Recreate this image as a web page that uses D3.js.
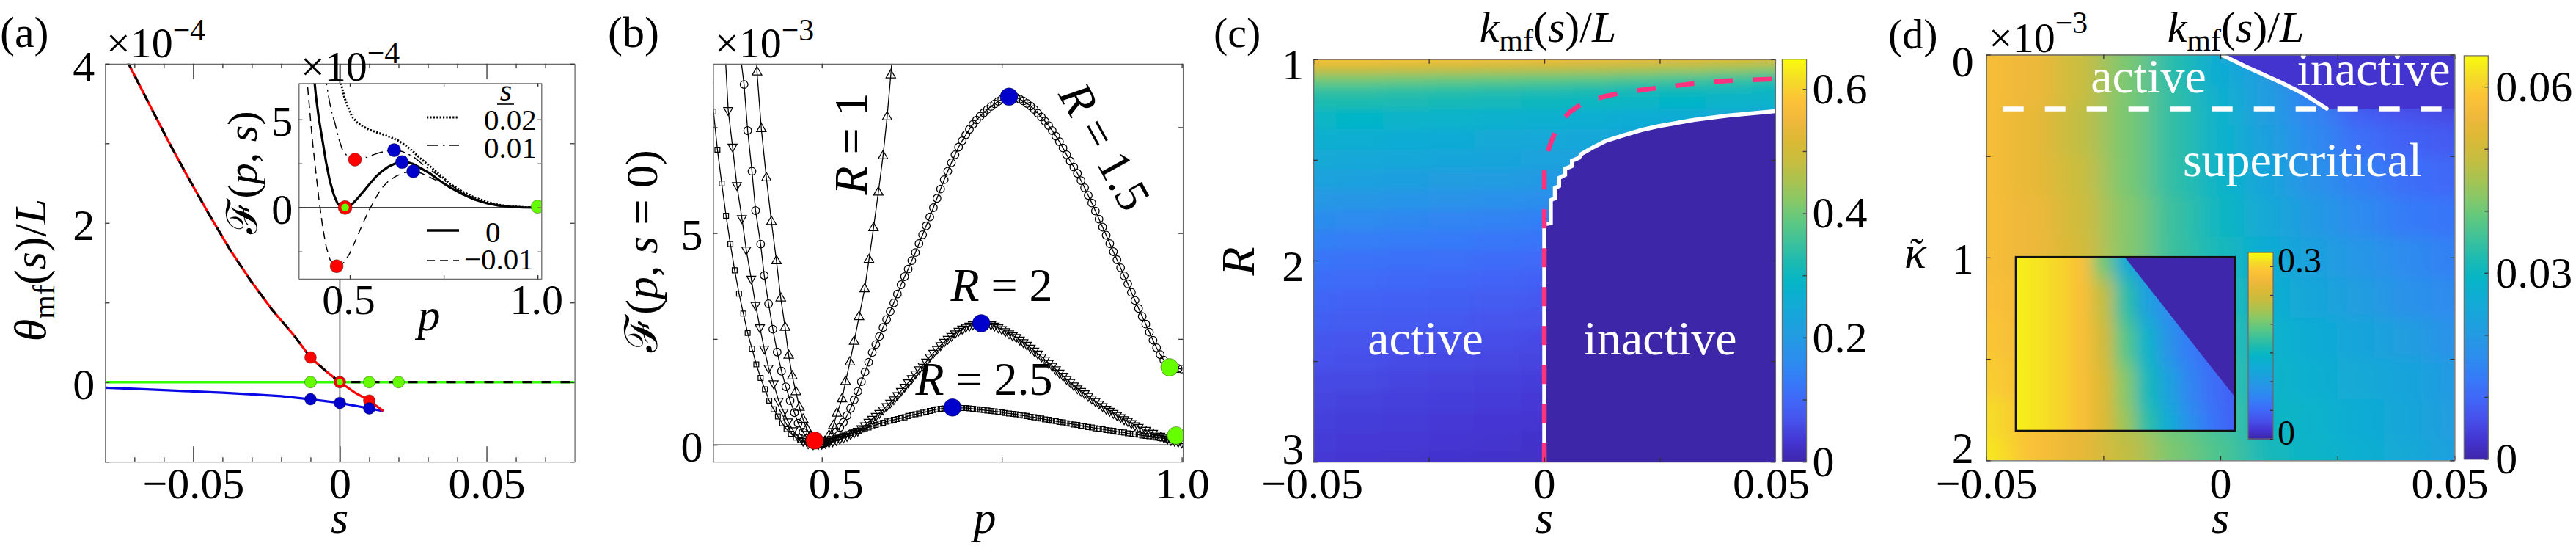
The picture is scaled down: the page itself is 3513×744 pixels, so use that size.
<!DOCTYPE html>
<html><head><meta charset="utf-8">
<script src="https://cdn.jsdelivr.net/npm/d3@7/dist/d3.min.js"></script>
<style>
html,body{margin:0;padding:0;background:#fff;}
svg text{font-family:"Liberation Serif","Times New Roman","DejaVu Serif",serif;}
</style></head>
<body>
<svg id="fig" width="3513" height="744" xmlns="http://www.w3.org/2000/svg"></svg>
<script>
// ================= DATA =================
// (a) theta_mf(s)/L  (units 1e-4) versus s
const aRed=[[-0.0728,4.05],[-0.072,4.0],[-0.0655,3.53],[-0.0585,3.03],[-0.0514,2.55],[-0.0443,2.09],[-0.0372,1.65],[-0.0301,1.26],[-0.023,0.906],[-0.0159,0.6],[-0.01,0.31],[-0.0045,0.13],[0,0],[0.0053,-0.136],[0.01,-0.232],[0.0148,-0.363]];
const aBlue=[[-0.08,-0.07],[-0.07,-0.085],[-0.06,-0.1],[-0.05,-0.117],[-0.04,-0.133],[-0.03,-0.153],[-0.02,-0.177],[-0.01,-0.215],[0,-0.262],[0.01,-0.33],[0.0148,-0.363]];
const aGreen=[[-0.08,0],[0.08,0]];
const aZeroTail=[[0.08,0]];
const aRedDots=[[-0.01,0.31],[0.01,-0.232]];
const aBlueDots=[[-0.01,-0.215],[0,-0.262],[0.01,-0.33]];
const aGreenDots=[[-0.01,0],[0.01,0],[0.02,0]];
const aRing=[[0,0]];
// (a) inset: F(p,s) (units 1e-4) versus p for s = 0.02, 0.01, 0, -0.01
const iDotted=[[0.474,7.6],[0.4765,7.06],[0.485,6.3],[0.493,5.81],[0.505,5.2],[0.519,4.83],[0.535,4.6],[0.551,4.42],[0.57,4.28],[0.59,4.14],[0.61,3.98],[0.63,3.79],[0.65,3.5],[0.669,3.17],[0.69,2.75],[0.714,2.33],[0.74,1.85],[0.766,1.36],[0.8,0.9],[0.831,0.58],[0.865,0.32],[0.896,0.15],[0.93,0.06],[0.96,0.02],[1.0,0.0]];
const iDashDot=[[0.434,7.6],[0.4375,7.06],[0.446,6.0],[0.453,5.3],[0.46,4.83],[0.47,3.95],[0.48,3.3],[0.49,3.0],[0.4995,2.85],[0.5137,2.72],[0.53,2.76],[0.545,2.86],[0.558,2.96],[0.58,3.12],[0.6,3.22],[0.618,3.26],[0.64,3.18],[0.669,2.89],[0.7,2.35],[0.734,1.85],[0.766,1.3],[0.8,0.85],[0.831,0.5],[0.865,0.27],[0.9,0.12],[0.95,0.03],[1.0,0.0]];
const iSolid=[[0.404,7.6],[0.41,6.3],[0.418,5.0],[0.428,3.72],[0.437,2.55],[0.447,1.5],[0.457,0.75],[0.467,0.25],[0.477,0.04],[0.4875,0.0],[0.497,0.05],[0.506,0.18],[0.52,0.5],[0.538,0.95],[0.555,1.4],[0.571,1.78],[0.587,2.08],[0.6035,2.33],[0.62,2.49],[0.639,2.58],[0.655,2.56],[0.669,2.47],[0.69,2.22],[0.714,1.92],[0.74,1.52],[0.766,1.15],[0.8,0.76],[0.831,0.46],[0.865,0.24],[0.896,0.11],[0.93,0.04],[0.962,0.01],[1.0,0.0]];
const iDashed=[[0.384,7.6],[0.387,7.06],[0.393,5.6],[0.4,3.9],[0.408,2.33],[0.418,0.45],[0.428,-1.14],[0.437,-2.2],[0.447,-2.94],[0.456,-3.25],[0.465,-3.33],[0.475,-3.28],[0.486,-3.08],[0.5,-2.6],[0.519,-1.69],[0.535,-0.9],[0.551,-0.17],[0.568,0.5],[0.584,1.08],[0.603,1.5],[0.623,1.78],[0.645,1.98],[0.669,2.06],[0.69,1.95],[0.714,1.71],[0.74,1.45],[0.766,1.15],[0.8,0.76],[0.831,0.46],[0.865,0.24],[0.896,0.11],[0.93,0.04],[0.962,0.01],[1.0,0.0]];
const iRedDots=[[0.5137,2.72],[0.465,-3.33]];
const iBlueDots=[[0.618,3.26],[0.639,2.58],[0.669,2.06]];
const iGreenDots=[[1.0,0.05]];
const iRing=[[0.4875,0]];
const iLegendLabels=["0.02","0.01","0","\u22120.01"];
// (b) F(p, s=0) (units 1e-3) versus p for R = 1, 1.5, 2, 2.5
const bR1=[[0.408,9.6],[0.41,8.8],[0.416,7.46],[0.423,6.3],[0.43,5.27],[0.437,4.34],[0.443,3.46],[0.449,2.77],[0.454,2.11],[0.459,1.62],[0.464,1.25],[0.469,0.88],[0.474,0.6],[0.479,0.38],[0.484,0.2],[0.49,0.05],[0.497,0.01],[0.504,0.07],[0.51,0.22],[0.516,0.45],[0.521,0.74],[0.528,1.08],[0.533,1.49],[0.539,1.95],[0.5449,2.44],[0.5517,3.02],[0.5595,3.68],[0.5655,4.37],[0.5718,5.12],[0.5785,5.96],[0.585,6.82],[0.5907,7.74],[0.5958,8.73],[0.5995,9.5]];
const bR15=[[0.387,9.2],[0.392,8.51],[0.397,7.42],[0.403,6.46],[0.408,5.53],[0.415,4.74],[0.42,4.0],[0.426,3.33],[0.432,2.73],[0.438,2.19],[0.444,1.74],[0.45,1.37],[0.456,1.04],[0.462,0.76],[0.467,0.51],[0.474,0.3],[0.48,0.15],[0.486,0.05],[0.492,0.01],[0.5,0.02],[0.505,0.05],[0.51,0.11],[0.515,0.19],[0.52,0.3],[0.525,0.41],[0.53,0.53],[0.535,0.69],[0.54,0.86],[0.545,1.06],[0.55,1.26],[0.555,1.49],[0.56,1.72],[0.565,1.95],[0.57,2.18],[0.575,2.37],[0.58,2.56],[0.585,2.77],[0.59,2.96],[0.595,3.15],[0.6,3.35],[0.605,3.56],[0.61,3.78],[0.615,3.97],[0.62,4.15],[0.625,4.35],[0.63,4.54],[0.635,4.75],[0.64,4.96],[0.645,5.17],[0.65,5.38],[0.655,5.6],[0.66,5.82],[0.665,6.04],[0.67,6.26],[0.675,6.46],[0.68,6.66],[0.685,6.85],[0.69,7.03],[0.695,7.18],[0.7,7.32],[0.705,7.45],[0.71,7.57],[0.715,7.67],[0.72,7.76],[0.725,7.84],[0.73,7.92],[0.735,7.99],[0.74,8.05],[0.745,8.11],[0.75,8.16],[0.755,8.2],[0.76,8.22],[0.765,8.22],[0.77,8.2],[0.775,8.16],[0.78,8.12],[0.785,8.06],[0.79,8.0],[0.795,7.92],[0.8,7.83],[0.805,7.74],[0.81,7.64],[0.815,7.54],[0.82,7.42],[0.825,7.29],[0.83,7.16],[0.835,7.01],[0.84,6.85],[0.845,6.7],[0.85,6.56],[0.855,6.41],[0.86,6.24],[0.865,6.07],[0.87,5.89],[0.875,5.71],[0.88,5.52],[0.885,5.33],[0.89,5.14],[0.895,4.95],[0.9,4.75],[0.905,4.56],[0.91,4.37],[0.915,4.18],[0.92,3.99],[0.925,3.8],[0.93,3.6],[0.935,3.41],[0.94,3.22],[0.945,3.03],[0.95,2.85],[0.955,2.66],[0.96,2.47],[0.965,2.29],[0.97,2.13],[0.975,2.0],[0.98,1.9],[0.985,1.84],[0.99,1.81],[0.995,1.8],[1.0,1.79]];
const bR2=[[0.365,9.5],[0.37,7.9],[0.376,7.04],[0.382,6.13],[0.389,5.35],[0.395,4.61],[0.402,3.92],[0.408,3.3],[0.414,2.77],[0.42,2.27],[0.426,1.82],[0.433,1.45],[0.44,1.04],[0.447,0.78],[0.453,0.55],[0.46,0.34],[0.467,0.19],[0.474,0.09],[0.481,0.03],[0.488,0.01],[0.495,0.01],[0.5,0.02],[0.505,0.04],[0.51,0.06],[0.515,0.08],[0.52,0.11],[0.525,0.14],[0.53,0.17],[0.535,0.21],[0.54,0.25],[0.545,0.29],[0.55,0.33],[0.555,0.39],[0.56,0.46],[0.565,0.54],[0.57,0.61],[0.575,0.68],[0.58,0.75],[0.585,0.83],[0.59,0.91],[0.595,0.99],[0.6,1.07],[0.605,1.17],[0.61,1.27],[0.615,1.37],[0.62,1.47],[0.625,1.57],[0.63,1.68],[0.635,1.78],[0.64,1.87],[0.645,1.96],[0.65,2.08],[0.655,2.17],[0.66,2.26],[0.665,2.35],[0.67,2.43],[0.675,2.5],[0.68,2.57],[0.685,2.63],[0.69,2.69],[0.695,2.74],[0.7,2.78],[0.705,2.81],[0.71,2.84],[0.715,2.86],[0.72,2.87],[0.725,2.87],[0.73,2.86],[0.735,2.84],[0.74,2.81],[0.745,2.77],[0.75,2.73],[0.755,2.68],[0.76,2.63],[0.765,2.58],[0.77,2.54],[0.775,2.48],[0.78,2.42],[0.785,2.36],[0.79,2.29],[0.795,2.22],[0.8,2.15],[0.805,2.08],[0.81,2.01],[0.815,1.93],[0.82,1.86],[0.825,1.78],[0.83,1.7],[0.835,1.63],[0.84,1.55],[0.845,1.48],[0.85,1.4],[0.855,1.33],[0.86,1.27],[0.865,1.21],[0.87,1.15],[0.875,1.09],[0.88,1.03],[0.885,0.97],[0.89,0.91],[0.895,0.85],[0.9,0.8],[0.905,0.75],[0.91,0.7],[0.915,0.65],[0.92,0.6],[0.925,0.56],[0.93,0.51],[0.935,0.46],[0.94,0.42],[0.945,0.38],[0.95,0.35],[0.955,0.31],[0.96,0.28],[0.965,0.24],[0.97,0.21],[0.975,0.18],[0.98,0.14],[0.985,0.11],[0.99,0.09],[0.995,0.07],[1.0,0.05]];
const bR25=[[0.345,8.6],[0.3495,7.87],[0.355,6.97],[0.361,6.17],[0.367,5.41],[0.373,4.74],[0.379,4.12],[0.385,3.57],[0.391,3.1],[0.397,2.64],[0.403,2.27],[0.409,1.9],[0.415,1.58],[0.421,1.31],[0.427,1.04],[0.433,0.84],[0.439,0.67],[0.445,0.51],[0.451,0.37],[0.457,0.26],[0.464,0.17],[0.47,0.11],[0.476,0.06],[0.482,0.03],[0.488,0.01],[0.495,0.01],[0.5,0.02],[0.505,0.05],[0.51,0.09],[0.515,0.13],[0.52,0.16],[0.525,0.19],[0.53,0.22],[0.535,0.25],[0.54,0.28],[0.545,0.31],[0.55,0.33],[0.555,0.36],[0.56,0.39],[0.565,0.41],[0.57,0.44],[0.575,0.47],[0.58,0.5],[0.585,0.52],[0.59,0.55],[0.595,0.57],[0.6,0.59],[0.605,0.61],[0.61,0.63],[0.615,0.65],[0.62,0.68],[0.625,0.7],[0.63,0.72],[0.635,0.74],[0.64,0.76],[0.645,0.78],[0.65,0.8],[0.655,0.82],[0.66,0.84],[0.665,0.85],[0.67,0.86],[0.675,0.87],[0.68,0.88],[0.685,0.88],[0.69,0.88],[0.695,0.87],[0.7,0.87],[0.705,0.86],[0.71,0.85],[0.715,0.84],[0.72,0.83],[0.725,0.82],[0.73,0.81],[0.735,0.8],[0.74,0.79],[0.745,0.78],[0.75,0.77],[0.755,0.75],[0.76,0.74],[0.765,0.73],[0.77,0.72],[0.775,0.7],[0.78,0.69],[0.785,0.68],[0.79,0.66],[0.795,0.65],[0.8,0.63],[0.805,0.62],[0.81,0.6],[0.815,0.59],[0.82,0.57],[0.825,0.56],[0.83,0.54],[0.835,0.53],[0.84,0.51],[0.845,0.5],[0.85,0.48],[0.855,0.47],[0.86,0.45],[0.865,0.44],[0.87,0.42],[0.875,0.41],[0.88,0.39],[0.885,0.38],[0.89,0.37],[0.895,0.35],[0.9,0.34],[0.905,0.33],[0.91,0.31],[0.915,0.3],[0.92,0.29],[0.925,0.27],[0.93,0.26],[0.935,0.25],[0.94,0.24],[0.945,0.22],[0.95,0.21],[0.955,0.2],[0.96,0.18],[0.965,0.17],[0.97,0.16],[0.975,0.15],[0.98,0.13],[0.985,0.12],[0.99,0.11],[0.995,0.1],[1.0,0.09]];
const bRedDots=[[0.49,0.1]];
const bBlueDots=[[0.76,8.22],[0.7215,2.87],[0.6815,0.88]];
const bGreenDots=[[0.983,1.83],[0.992,0.22]];
// (c) k_mf(s)/L over (s, R)
const sC=[-0.05,-0.04,-0.03,-0.02,-0.01,0,0.01,0.02,0.03,0.04,0.05];
const RC=[1.0,1.05,1.1,1.15,1.2,1.3,1.4,1.5,1.6,1.7,1.8,1.9,2.0,2.1,2.2,2.3,2.4,2.5,2.6,2.7,2.8,2.9,3.0];
const cVals=[
[0.575,0.575,0.57,0.565,0.56,0.555,0.55,0.545,0.535,0.525,0.515],
[0.49,0.49,0.485,0.48,0.475,0.47,0.465,0.455,0.445,0.435,0.425],
[0.41,0.41,0.405,0.4,0.395,0.39,0.385,0.375,0.365,0.355,0.345],
[0.355,0.355,0.35,0.345,0.34,0.335,0.33,0.32,0.315,0.31,0.3],
[0.325,0.325,0.32,0.315,0.31,0.305,0.3,0.295,0.29,0.285,0.28],
[0.295,0.29,0.285,0.28,0.275,0.27,0.265,0.26,0.255,0.25,0.245],
[0.27,0.265,0.26,0.255,0.25,0.245,0.24,0.235,0.23,0.225,0.22],
[0.25,0.245,0.24,0.235,0.23,0.225,0.22,0.215,0.21,0.205,0.2],
[0.225,0.22,0.215,0.21,0.205,0.2,0.195,0.19,0.185,0.18,0.175],
[0.195,0.19,0.185,0.18,0.175,0.17,0.165,0.16,0.155,0.15,0.145],
[0.165,0.16,0.155,0.15,0.145,0.14,0.135,0.13,0.125,0.12,0.115],
[0.14,0.137,0.133,0.129,0.125,0.12,0.116,0.112,0.108,0.104,0.1],
[0.12,0.117,0.114,0.111,0.107,0.103,0.1,0.097,0.094,0.091,0.088],
[0.107,0.104,0.101,0.098,0.094,0.09,0.087,0.084,0.082,0.08,0.077],
[0.095,0.092,0.089,0.086,0.082,0.078,0.075,0.072,0.07,0.068,0.066],
[0.085,0.082,0.079,0.076,0.072,0.068,0.065,0.062,0.06,0.058,0.056],
[0.075,0.072,0.069,0.066,0.062,0.058,0.055,0.052,0.05,0.048,0.046],
[0.066,0.063,0.06,0.057,0.054,0.05,0.047,0.045,0.043,0.041,0.039],
[0.058,0.055,0.052,0.049,0.046,0.043,0.04,0.038,0.036,0.034,0.032],
[0.051,0.048,0.046,0.043,0.04,0.037,0.034,0.032,0.03,0.028,0.026],
[0.045,0.042,0.04,0.037,0.034,0.031,0.028,0.026,0.024,0.022,0.02],
[0.04,0.037,0.035,0.033,0.03,0.027,0.024,0.022,0.02,0.018,0.016],
[0.035,0.033,0.031,0.029,0.026,0.023,0.02,0.018,0.016,0.014,0.012]];
const cWhite=[[0,3.0],[0,1.82],[0.0014,1.815],[0.0014,1.7],[0.0023,1.69],[0.0023,1.64],[0.0032,1.63],[0.0032,1.59],[0.0045,1.575],[0.0045,1.545],[0.006,1.53],[0.006,1.505],[0.0075,1.49],[0.0081,1.47],[0.0104,1.44],[0.0134,1.405],[0.0172,1.378],[0.021,1.352],[0.0247,1.333],[0.0323,1.302],[0.0398,1.28],[0.05,1.258]];
const cInactiveClose=[[0.05,3.0]];
const cPink=[[0,3.0],[0,1.536],[0.0006,1.467],[0.0017,1.398],[0.0032,1.32],[0.0055,1.263],[0.0081,1.221],[0.0127,1.187],[0.0172,1.164],[0.0247,1.142],[0.0323,1.121],[0.0398,1.107],[0.05,1.098]];
// (d) k_mf(s)/L over (s, kappa~) (kappa~ in units 1e-3)
const sD=[-0.05,-0.04,-0.03,-0.02,-0.01,0,0.01,0.02,0.03,0.04,0.05];
const kD=[0,0.1,0.2,0.3,0.4,0.6,0.8,1.0,1.2,1.4,1.6,1.8,2.0];
const dVals=[
[0.057,0.055,0.049,0.041,0.033,0.026,0.015,0.004,0.003,0.003,0.003],
[0.057,0.055,0.049,0.041,0.033,0.026,0.021,0.006,0.003,0.003,0.003],
[0.057,0.055,0.049,0.041,0.034,0.027,0.021,0.014,0.004,0.004,0.004],
[0.057,0.054,0.048,0.041,0.034,0.028,0.021,0.015,0.009,0.007,0.006],
[0.057,0.054,0.048,0.041,0.034,0.028,0.022,0.016,0.011,0.009,0.008],
[0.057,0.054,0.049,0.041,0.034,0.029,0.023,0.018,0.014,0.011,0.01],
[0.057,0.055,0.05,0.042,0.035,0.03,0.025,0.02,0.016,0.013,0.012],
[0.057,0.055,0.051,0.042,0.035,0.031,0.026,0.022,0.019,0.016,0.014],
[0.058,0.056,0.052,0.044,0.037,0.033,0.027,0.024,0.021,0.018,0.016],
[0.059,0.056,0.052,0.045,0.038,0.034,0.028,0.026,0.023,0.021,0.018],
[0.06,0.057,0.053,0.046,0.039,0.035,0.029,0.027,0.025,0.023,0.02],
[0.062,0.058,0.054,0.047,0.04,0.036,0.03,0.028,0.026,0.024,0.021],
[0.063,0.058,0.054,0.048,0.041,0.037,0.031,0.029,0.027,0.025,0.022]];
const dWhite=[[0.0002,0],[0.0052,0.056],[0.0134,0.142],[0.0178,0.193],[0.0227,0.266]];
const dInactiveClose=[[0.05,0.266],[0.05,0]];
const dDashed=[[-0.0464,0.268],[0.0487,0.268]];
// (d) inset heat map (normalised coordinates)
const uI=[0,0.1,0.2,0.3,0.4,0.5,0.6,0.7,0.8,0.9,1.0];
const vI=[0,0.25,0.5,0.75,1.0];
const iVals=[
[0.318,0.312,0.303,0.288,0.2,0.13,0.09,0.07,0.06,0.05,0.05],
[0.318,0.312,0.303,0.288,0.24,0.17,0.11,0.08,0.06,0.05,0.05],
[0.318,0.312,0.303,0.288,0.25,0.19,0.14,0.09,0.065,0.05,0.05],
[0.318,0.312,0.303,0.288,0.26,0.21,0.155,0.11,0.075,0.055,0.045],
[0.318,0.312,0.303,0.288,0.26,0.22,0.17,0.13,0.085,0.06,0.045]];
const iDark=[[0.497,0],[1,0],[1,0.806]];
// colour bars
const cbCTicks=[0,0.1,0.2,0.3,0.4,0.5,0.6], cbCLabels=[0,0.2,0.4,0.6];
const cbDTicks=[0,0.01,0.02,0.03,0.04,0.05,0.06], cbDLabels=[0,0.03,0.06];
const cbITicks=[0,0.05,0.1,0.15,0.2,0.25,0.3], cbILabels=[0,0.3];

// ================= HELPERS =================
const FONT='"Liberation Serif","Times New Roman","DejaVu Serif",serif';
const svg=d3.select("#fig");
svg.append("rect").attr("width",3513).attr("height",744).attr("fill","#fff");
const defs=svg.append("defs");
const parula=d3.scaleLinear()
  .domain([0,0.05,0.1,0.15,0.2,0.25,0.3,0.35,0.4,0.45,0.5,0.55,0.6,0.65,0.7,0.75,0.8,0.85,0.9,0.95,1])
  .range(["#3e26a8","#4435d2","#4750ea","#4166f8","#367af8","#2d8cee","#2698e4","#1aa3dc","#10acd4","#06b5c6","#1ebbb0","#3fc29a","#60c880","#88c868","#abc24f","#c8bd3f","#dcb935","#f0b83c","#fcc237","#f5dc28","#f9fb0e"])
  .clamp(true);
function clip(id,x0,y0,x1,y1){defs.append("clipPath").attr("id",id).append("rect").attr("x",x0).attr("y",y0).attr("width",x1-x0).attr("height",y1-y0);}
const minus=v=>v<0?"\u2212"+Math.abs(v):String(v);
function axis(parent,fn,scale,vals,size,fmt,tx,ty,opt={}){
  const ax=fn(scale).tickValues(vals).tickSizeInner(size).tickSizeOuter(0).tickPadding(opt.pad??8).tickFormat(fmt||(()=>""));
  const g=parent.append("g").attr("transform",`translate(${tx},${ty})`).call(ax);
  g.attr("font-family",FONT).attr("font-size",opt.fs||60);
  g.selectAll("text").attr("fill","#000");
  g.selectAll("text").filter(function(){return this.textContent==="";}).remove();
  if(opt.noDomain) g.select(".domain").remove(); else g.select(".domain").attr("stroke",opt.dc||"#6a6a6a").attr("stroke-width",1.3);
  g.selectAll(".tick line").attr("stroke",opt.tc||"#333").attr("stroke-width",1.3);
  return g;
}
function mtext(parent,parts,attrs){
  const t=parent.append("text");
  Object.entries(attrs).forEach(([k,v])=>t.attr(k,v));
  parts.forEach(p=>{const s=t.append("tspan").text(p.t);
    if(p.i)s.attr("font-style","italic"); if(p.fs)s.attr("font-size",p.fs); if(p.dy)s.attr("dy",p.dy); if(p.ff)s.attr("font-family",p.ff);});
  return t;
}
function edges(px,pad){const n=px.length,dir=Math.sign(px[n-1]-px[0]);const e=[px[0]-dir*pad];
  for(let k=0;k<n-1;k++)e.push((px[k]+px[k+1])/2); e.push(px[n-1]+dir*pad); return e;}
function heatmap(parent,id,xs,ys,grid,xS,yS,cmap,fr,blur,pad){
  clip("clip"+id,fr[0],fr[1],fr[2],fr[3]);
  const f=defs.append("filter").attr("id","blur"+id).attr("filterUnits","userSpaceOnUse")
    .attr("x",fr[0]-200).attr("y",fr[1]-200).attr("width",fr[2]-fr[0]+400).attr("height",fr[3]-fr[1]+400);
  f.append("feGaussianBlur").attr("stdDeviation",blur);
  const xe=edges(xs.map(xS),pad), ye=edges(ys.map(yS),pad);
  const cells=[]; grid.forEach((row,j)=>row.forEach((v,i)=>cells.push({i,j,v})));
  parent.append("g").attr("clip-path",`url(#clip${id})`).append("g").attr("filter",`url(#blur${id})`)
    .selectAll("rect").data(cells).join("rect")
    .attr("x",d=>Math.min(xe[d.i],xe[d.i+1])-0.5).attr("y",d=>Math.min(ye[d.j],ye[d.j+1])-0.5)
    .attr("width",d=>Math.abs(xe[d.i+1]-xe[d.i])+1).attr("height",d=>Math.abs(ye[d.j+1]-ye[d.j])+1)
    .attr("fill",d=>cmap(d.v));
}
function colorbar(parent,x0,x1,yS,vmax,cmap,ticks,labels,fs,pad,tl,ly){
  const n=200,step=vmax/n,vals=d3.range(n).map(k=>k*step);
  parent.append("g").selectAll("rect").data(vals).join("rect")
    .attr("x",x0).attr("width",x1-x0).attr("y",v=>yS(v+step)).attr("height",v=>yS(v)-yS(v+step)+0.8)
    .attr("fill",v=>cmap(v+step/2));
  const [ya,yb]=yS.range();
  parent.append("rect").attr("x",x0).attr("y",Math.min(ya,yb)).attr("width",x1-x0).attr("height",Math.abs(ya-yb))
    .attr("fill","none").attr("stroke","#6a6a6a").attr("stroke-width",1.2);
  const g=axis(parent,d3.axisRight,yS,ticks,-tl,v=>labels.includes(v)?String(v):"",x1,0,{fs,pad,noDomain:true});
  if(ly) g.selectAll("text").attr("y",ly);
  return g;
}
function dots(parent,data,xS,yS,r,color){
  parent.append("g").selectAll("circle").data(data).join("circle")
    .attr("cx",d=>xS(d[0])).attr("cy",d=>yS(d[1])).attr("r",r).attr("fill",color)
    .attr("stroke","#000").attr("stroke-opacity",0.35).attr("stroke-width",1);
}
function rings(parent,data,xS,yS,r){
  dots(parent,data,xS,yS,r,"#ff0000");
  parent.append("g").selectAll("circle").data(data).join("circle")
    .attr("cx",d=>xS(d[0])).attr("cy",d=>yS(d[1])).attr("r",r*0.55).attr("fill","#66ff00");
}
function path(parent,data,line,stroke,w,dash){
  const p=parent.append("path").datum(data).attr("d",line).attr("fill","none").attr("stroke",stroke).attr("stroke-width",w);
  if(dash)p.attr("stroke-dasharray",dash);
  return p;
}
function sci(parent,x,y,exp,fs,dy){
  mtext(parent,[{t:"\u00d710"},{t:"\u2212"+exp,fs:fs*0.72,dy:dy}],{x:x,y:y,"font-size":fs});
}
function kTitle(parent,cx,y){
  mtext(parent,[{t:"k",i:1},{t:"mf",fs:42,dy:12},{t:"(",dy:-12},{t:"s",i:1},{t:")/"},{t:"L",i:1}],{x:cx,y:y,"text-anchor":"middle","font-size":60});
}

// ================= PANEL (a) =================
const gA=svg.append("g");
const xA=d3.scaleLinear([-0.08,0.08],[143.3,783.6]), yA=d3.scaleLinear([-1,4],[629.2,86.8]);
const lA=d3.line().x(d=>xA(d[0])).y(d=>yA(d[1]));
clip("clipA",143.3,86.8,783.6,629.2);
const pA=gA.append("g").attr("clip-path","url(#clipA)");
pA.append("line").attr("x1",xA(0)).attr("x2",xA(0)).attr("y1",yA(-1)).attr("y2",yA(4)).attr("stroke","#000").attr("stroke-width",1.5);
path(pA,aGreen,lA,"#33ff00",3.6);
path(pA,aBlue,lA,"#0a0ae6",3.2);
path(pA,aRed,lA,"#ff0000",3.2);
path(pA,aRed.filter(d=>d[0]<=0).concat(aZeroTail),lA,"#000",3.2,"13,13");
const minorA=[-0.07,-0.06,-0.04,-0.03,-0.02,-0.01,0.01,0.02,0.03,0.04,0.06,0.07];
axis(gA,d3.axisBottom,xA,[-0.05,0,0.05],-21,minus,0,629.2,{pad:7});
axis(gA,d3.axisBottom,xA,minorA,-6,null,0,629.2,{noDomain:true});
axis(gA,d3.axisTop,xA,[-0.05,0,0.05],-21,null,0,86.8);
axis(gA,d3.axisTop,xA,minorA,-6,null,0,86.8,{noDomain:true});
axis(gA,d3.axisLeft,yA,[-1,0,1,2,3,4],-6,v=>(v>=0&&v%2===0)?String(v):"",143.3,0,{pad:14}).selectAll("text").attr("y",4);
axis(gA,d3.axisRight,yA,[-1,0,1,2,3,4],-6,null,783.6,0);
dots(pA,aGreenDots,xA,yA,8,"#66ff00");
dots(pA,aRedDots,xA,yA,8,"#ff0000");
dots(pA,aBlueDots,xA,yA,8,"#0000cc");
rings(pA,aRing,xA,yA,8);
mtext(gA,[{t:"\u03b8",i:1},{t:"mf",fs:42,dy:12},{t:"(",dy:-12},{t:"s",i:1},{t:")/"},{t:"L",i:1}],{transform:"translate(62,368) rotate(-90)","text-anchor":"middle","font-size":62});
mtext(gA,[{t:"s",i:1}],{x:463,y:726,"text-anchor":"middle","font-size":62});
mtext(gA,[{t:"(a)"}],{x:0,y:64,"font-size":60});
sci(gA,145,78,"4",58,-23);

// ---- inset of (a)
const xI=d3.scaleLinear([0.364,1.01],[407.3,738.3]), yI=d3.scaleLinear([-4.05,7.06],[380,113.3]);
const lI=d3.line().x(d=>xI(d[0])).y(d=>yI(d[1]));
gA.append("rect").attr("x",407.3).attr("y",113.3).attr("width",331).attr("height",266.7).attr("fill","#fff");
clip("clipI",407.3,113.3,738.3,380);
const pI=gA.append("g").attr("clip-path","url(#clipI)");
pI.append("line").attr("x1",407.3).attr("x2",738.3).attr("y1",yI(0)).attr("y2",yI(0)).attr("stroke","#000").attr("stroke-width",1.3);
path(pI,iDashed,lI,"#000",1.5,"11,7");
path(pI,iDotted,lI,"#000",3,"2.2,2.2");
path(pI,iDashDot,lI,"#000",1.5,"16,6,2.5,6");
path(pI,iSolid,lI,"#000",3.2);
axis(gA,d3.axisBottom,xI,[0.5,0.75,1.0],-5,v=>v===0.75?"":(v===1?"1.0":String(v)),0,380,{pad:7,fs:58}).selectAll("text").attr("dx",-2);
axis(gA,d3.axisTop,xI,[0.5,0.75,1.0],-5,null,0,113.3);
axis(gA,d3.axisLeft,yI,[-2.5,0,2.5,5],-5,v=>(v===0||v===5)?String(v):"",407.3,0,{pad:8,fs:58}).selectAll("text").attr("y",3);
axis(gA,d3.axisRight,yI,[-2.5,0,2.5,5],-5,null,738.3,0);
dots(pI,iRedDots,xI,yI,9,"#ff0000");
dots(pI,iBlueDots,xI,yI,9,"#0000cc");
dots(pI,iGreenDots,xI,yI,9,"#66ff00");
rings(pI,iRing,xI,yI,9.5);
// legend
const legY=[160,198,314,355], legTY=[177,215,330,367], legTX=[660,660,662,633];
const legStyle=[[3,"2.2,2.2"],[1.5,"16,6,2.5,6"],[3.4,null],[1.5,"11,7"]];
legY.forEach((y,k)=>{
  const l=gA.append("line").attr("x1",582).attr("x2",626).attr("y1",y).attr("y2",y).attr("stroke","#000").attr("stroke-width",legStyle[k][0]);
  if(legStyle[k][1]) l.attr("stroke-dasharray",legStyle[k][1]);
  mtext(gA,[{t:iLegendLabels[k]}],{x:legTX[k],y:legTY[k],"font-size":41});
});
mtext(gA,[{t:"s",i:1}],{x:690,y:137,"text-anchor":"middle","font-size":42});
gA.append("line").attr("x1",678).attr("x2",701).attr("y1",142).attr("y2",142).attr("stroke","#000").attr("stroke-width",1.6);
mtext(gA,[{t:"\u2131",ff:"DejaVu Serif"},{t:"("},{t:"p",i:1},{t:", "},{t:"s",i:1},{t:")"}],{transform:"translate(350,235) rotate(-90)","text-anchor":"middle","font-size":58});
mtext(gA,[{t:"p",i:1}],{x:585,y:450,"text-anchor":"middle","font-size":62});
sci(gA,410,110,"4",58,-24);

// ================= PANEL (b) =================
const gB=svg.append("g");
const xB=d3.scaleLinear([0.349,1.0015],[972.5,1613.1]), yB=d3.scaleLinear([-0.4,9],[629.2,86.8]);
const lB=d3.line().x(d=>xB(d[0])).y(d=>yB(d[1]));
clip("clipB",972.5,86.8,1613.1,629.2);
const pB=gB.append("g").attr("clip-path","url(#clipB)");
pB.append("line").attr("x1",972.5).attr("x2",1613.1).attr("y1",yB(0)).attr("y2",yB(0)).attr("stroke","#333").attr("stroke-width",1.3);
const bCurves=[{d:bR25,t:d3.symbolSquare,s:46,rot:0},{d:bR2,t:d3.symbolTriangle,s:66,rot:180},{d:bR15,t:d3.symbolCircle,s:88,rot:0},{d:bR1,t:d3.symbolTriangle,s:74,rot:0}];
bCurves.forEach(c=>{
  path(pB,c.d,lB,"#000",1.3);
  pB.append("g").selectAll("path").data(c.d).join("path")
    .attr("d",d3.symbol().type(c.t).size(c.s))
    .attr("transform",d=>`translate(${xB(d[0])},${yB(d[1])}) rotate(${c.rot})`)
    .attr("fill","none").attr("stroke","#000").attr("stroke-width",1.25);
});
dots(pB,bRedDots,xB,yB,12,"#ff0000");
dots(pB,bBlueDots,xB,yB,12,"#0000cc");
dots(pB,bGreenDots,xB,yB,12,"#66ff00");
const axBx=axis(gB,d3.axisBottom,xB,[0.5,0.75,1.0],-6,v=>v===0.75?"":(v===1?"1.0":String(v)),0,629.2,{pad:7});
axBx.selectAll(".tick").filter(d=>d===0.5).select("text").attr("dx",19);
axis(gB,d3.axisTop,xB,[0.5,0.75,1.0],-6,null,0,86.8);
axis(gB,d3.axisLeft,yB,[0,2.5,5,7.5],-6,v=>(v===0||v===5)?String(v):"",972.5,0,{pad:14}).selectAll("text").attr("y",3);
axis(gB,d3.axisRight,yB,[0,2.5,5,7.5],-6,null,1613.1,0);
mtext(gB,[{t:"\u2131",ff:"DejaVu Serif"},{t:"("},{t:"p",i:1},{t:", "},{t:"s",i:1},{t:" = 0)"}],{transform:"translate(896,342) rotate(-90)","text-anchor":"middle","font-size":62});
mtext(gB,[{t:"p",i:1}],{x:1343,y:726,"text-anchor":"middle","font-size":62});
mtext(gB,[{t:"(b)"}],{x:829,y:64,"font-size":60});
sci(gB,975,78,"3",58,-23);
mtext(gB,[{t:"R",i:1},{t:" = 1"}],{transform:"translate(1182,196) rotate(-90)","text-anchor":"middle","font-size":64});
mtext(gB,[{t:"R",i:1},{t:" = 1.5"}],{transform:"translate(1488,210) rotate(61)","text-anchor":"middle","font-size":64});
mtext(gB,[{t:"R",i:1},{t:" = 2"}],{x:1366,y:410,"text-anchor":"middle","font-size":64});
mtext(gB,[{t:"R",i:1},{t:" = 2.5"}],{x:1342,y:538,"text-anchor":"middle","font-size":64});

// ================= PANEL (c) =================
const gC=svg.append("g");
const xC=d3.scaleLinear([-0.05,0.05],[1791.2,2420.9]), yC=d3.scaleLinear([1,3],[80.7,629.2]);
const lC=d3.line().x(d=>xC(d[0])).y(d=>yC(d[1]));
heatmap(gC,"C",sC,RC,cVals,xC,yC,v=>parula(v/0.648),[1791.2,80.7,2420.9,629.2],"14 6",80);
gC.append("path").attr("d",lC(cWhite.concat(cInactiveClose))+"Z").attr("fill",parula(0));
path(gC,cWhite,lC,"#fff",5.6);
path(gC,cPink,lC,"#fb3280",6.5,"26,27");
mtext(gC,[{t:"active"}],{x:1944,y:483,"text-anchor":"middle","font-size":66,fill:"#fff"});
mtext(gC,[{t:"inactive"}],{x:2264,y:483,"text-anchor":"middle","font-size":66,fill:"#fff"});
const axCx=axis(gC,d3.axisBottom,xC,[-0.05,-0.025,0,0.025,0.05],-6,v=>(v===-0.025||v===0.025)?"":minus(v),0,629.2,{pad:7});
axCx.selectAll(".tick").filter(d=>d===0.05).select("text").attr("dx",-6);
axCx.selectAll(".tick").filter(d=>d===-0.05).select("text").attr("dx",-2);
axis(gC,d3.axisTop,xC,[-0.05,-0.025,0,0.025,0.05],-6,null,0,80.7);
const axCy=axis(gC,d3.axisLeft,yC,[1,1.5,2,2.5,3],-6,v=>Number.isInteger(v)?String(v):"",1791.2,0,{pad:13});
axCy.selectAll(".tick").select("text").attr("y",d=>d===3?-17:8);
axis(gC,d3.axisRight,yC,[1,1.5,2,2.5,3],-6,null,2420.9,0);
kTitle(gC,2111,57);
mtext(gC,[{t:"R",i:1}],{transform:"translate(1710,356) rotate(-90)","text-anchor":"middle","font-size":64});
mtext(gC,[{t:"s",i:1}],{x:2106,y:726,"text-anchor":"middle","font-size":62});
mtext(gC,[{t:"(c)"}],{x:1655,y:64,"font-size":58});
colorbar(gC,2430.4,2463.6,d3.scaleLinear([0,0.648],[629.2,80.7]),0.648,v=>parula(v/0.648),cbCTicks,cbCLabels,60,8,5);

// ================= PANEL (d) =================
const gD=svg.append("g");
const xD=d3.scaleLinear([-0.05,0.05],[2708.7,3347.4]), yD=d3.scaleLinear([0,2],[74.5,627.3]);
const lD=d3.line().x(d=>xD(d[0])).y(d=>yD(d[1]));
heatmap(gD,"D",sD,kD,dVals,xD,yD,v=>parula(v/0.065),[2708.7,74.5,3347.4,627.3],"20 9",90);
gD.append("path").attr("d",lD(dWhite.concat(dInactiveClose))+"Z").attr("fill",parula(0.003/0.065));
path(gD,dWhite,lD,"#fff",5.5).attr("stroke-linecap","round");
path(gD,dDashed,lD,"#fff",6.5,"28,29");
mtext(gD,[{t:"active"}],{x:2930,y:126,"text-anchor":"middle","font-size":66,fill:"#fff"});
mtext(gD,[{t:"inactive"}],{x:3237,y:116,"text-anchor":"middle","font-size":66,fill:"#fff"});
mtext(gD,[{t:"supercritical"}],{x:3140,y:240,"text-anchor":"middle","font-size":66,fill:"#fff"});
// inset
const xDI=d3.scaleLinear([0,1],[2749,3048]), yDI=d3.scaleLinear([0,1],[350.2,587]);
const lDI=d3.line().x(d=>xDI(d[0])).y(d=>yDI(d[1]));
heatmap(gD,"DI",uI,vI,iVals,xDI,yDI,v=>parula(v/0.324),[2749,350.2,3048,587],"10 14",60);
gD.append("path").attr("d",lDI(iDark)+"Z").attr("fill",parula(0.004));
gD.append("rect").attr("x",2749).attr("y",350.2).attr("width",299).attr("height",236.8).attr("fill","none").attr("stroke","#111").attr("stroke-width",2.6);
colorbar(gD,3066,3100,d3.scaleLinear([0,0.324],[598,344]),0.324,v=>parula(v/0.324),cbITicks,cbILabels,48,6,4,-8);
const axDx=axis(gD,d3.axisBottom,xD,[-0.05,-0.025,0,0.025,0.05],-6,v=>(v===-0.025||v===0.025)?"":minus(v),0,627.3,{pad:9});
axDx.selectAll(".tick").filter(d=>d===0.05).select("text").attr("dx",-7);
axis(gD,d3.axisTop,xD,[-0.05,-0.025,0,0.025,0.05],-6,null,0,74.5);
const axDy=axis(gD,d3.axisLeft,yD,[0,0.5,1,1.5,2],-6,v=>Number.isInteger(v)?String(v):"",2708.7,0,{pad:17});
axDy.selectAll(".tick").select("text").attr("y",d=>d===0?10:(d===2?-16:2));
axis(gD,d3.axisRight,yD,[0,0.5,1,1.5,2],-6,null,3347.4,0);
kTitle(gD,3049,57);
sci(gD,2712,71,"3",58,-26);
mtext(gD,[{t:"\u03ba",i:1}],{x:2612,y:365,"text-anchor":"middle","font-size":62});
mtext(gD,[{t:"\u02dc"}],{x:2614,y:362,"text-anchor":"middle","font-size":54});
mtext(gD,[{t:"s",i:1}],{x:3028,y:726,"text-anchor":"middle","font-size":62});
mtext(gD,[{t:"(d)"}],{x:2575,y:66,"font-size":58});
colorbar(gD,3360.3,3393.3,d3.scaleLinear([0,0.065],[625.5,75.9]),0.065,v=>parula(v/0.065),cbDTicks,cbDLabels,60,10,5);
</script>
</body></html>
